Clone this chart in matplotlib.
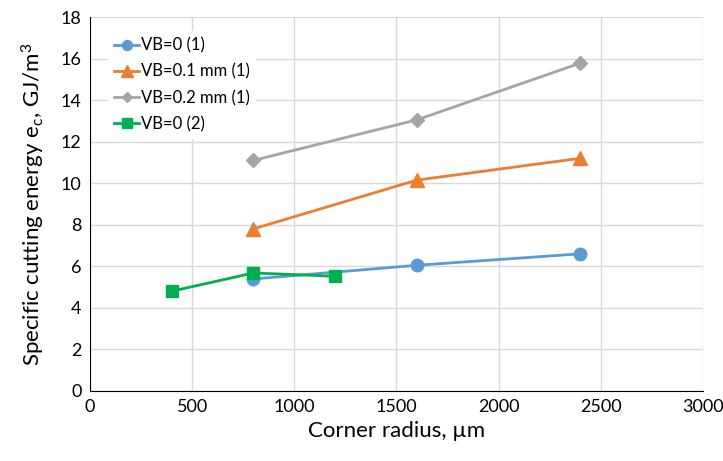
import matplotlib
matplotlib.use("Agg")
import matplotlib.pyplot as plt

plt.rcParams['font.family'] = ['Lato', 'DejaVu Sans']
plt.rcParams['mathtext.default'] = 'regular'

radius_1 = [800, 1600, 2400]
vb0_1 = [5.39, 6.05, 6.6]
vb01_1 = [7.8, 10.15, 11.2]
vb02_1 = [11.1, 13.05, 15.78]
radius_2 = [400, 800, 1200]
vb0_2 = [4.8, 5.68, 5.52]

fig = plt.figure(figsize=(7.23, 4.61), dpi=100)
ax = fig.add_axes([0.1245, 0.152, 0.8475, 0.811])

ax.plot(radius_1, vb0_1, color='#5b9bd5', marker='o', markersize=9, lw=2, label='VB=0 (1)')
ax.plot(radius_1, vb01_1, color='#ed7d31', marker='^', markersize=10, lw=2, label='VB=0.1 mm (1)')
ax.plot(radius_1, vb02_1, color='#a5a5a5', marker='D', markersize=7, lw=2, label='VB=0.2 mm (1)')
ax.plot(radius_2, vb0_2, color='#00b050', marker='s', markersize=9, lw=2, label='VB=0 (2)')

ax.set_xlim(0, 3000)
ax.set_ylim(0, 18)
ax.set_xticks(range(0, 3001, 500))
ax.set_yticks(range(0, 19, 2))
ax.grid(True, color='#d9d9d9', lw=1)
ax.set_axisbelow(True)
for s in ['top', 'right']:
    ax.spines[s].set_visible(False)
ax.spines['left'].set_color('black')
ax.spines['bottom'].set_color('black')
ax.tick_params(length=0, labelsize=13, pad=6)

ax.set_xlabel('Corner radius, µm', fontsize=16)
ax.set_ylabel('Specific cutting energy e$_c$, GJ/m$^3$', fontsize=16, labelpad=10)

leg = ax.legend(loc='upper left', bbox_to_anchor=(0.015, 0.985), frameon=True, fancybox=False,
                edgecolor='none', facecolor='white', framealpha=1, fontsize=12,
                handlelength=1.5, handletextpad=0.1, labelspacing=0.6, borderpad=0.4,
                markerscale=0.8)

fig.savefig('out.png', dpi=100)
